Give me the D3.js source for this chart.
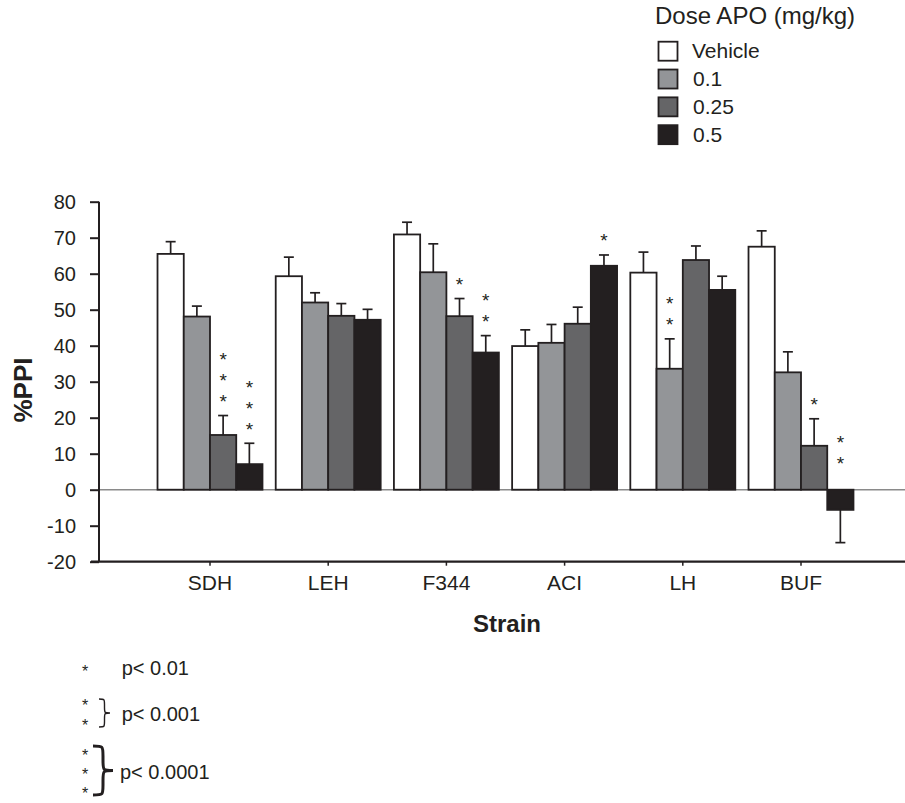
<!DOCTYPE html>
<html>
<head>
<meta charset="utf-8">
<script src="https://cdn.jsdelivr.net/npm/d3@7"></script>
<style>
  html, body { margin: 0; padding: 0; background: #fff; }
  svg { display: block; font-family: Arial, "Liberation Sans", Helvetica, sans-serif; }
</style>
</head>
<body>
<svg id="chart" width="905" height="803"></svg>
<script>
// Strains on the x axis, APO doses as the grouped series
const strains = ["SDH", "LEH", "F344", "ACI", "LH", "BUF"];
const doses = ["Vehicle", "0.1", "0.25", "0.5"];

// Mean %PPI per strain, one array per dose
const vehicle = [65.5, 59.3, 70.9, 39.9, 60.3, 67.5];
const dose01  = [48.1, 52.0, 60.4, 40.8, 33.6, 32.6];
const dose025 = [15.2, 48.3, 48.2, 46.1, 63.8, 12.2];
const dose05  = [7.1, 47.2, 38.1, 62.2, 55.5, -5.6];

// Standard errors
const vehicleErr = [3.4, 5.3, 3.4, 4.5, 5.7, 4.4];
const dose01Err  = [2.9, 2.7, 7.9, 5.1, 8.3, 5.7];
const dose025Err = [5.4, 3.4, 4.9, 4.6, 3.9, 7.5];
const dose05Err  = [5.8, 2.9, 4.7, 3.0, 3.8, 9.1];

// Number of significance stars above each bar
const vehicleSig = [0, 0, 0, 0, 0, 0];
const dose01Sig  = [0, 0, 0, 0, 2, 0];
const dose025Sig = [3, 0, 1, 0, 0, 1];
const dose05Sig  = [3, 0, 2, 1, 0, 2];

const yTicks = [80, 70, 60, 50, 40, 30, 20, 10, 0, -10, -20];
const fills = ["#ffffff", "#939598", "#656567", "#231f20"];
const ink = "#231f20";

const series = [
  { dose: doses[0], values: vehicle, err: vehicleErr, sig: vehicleSig },
  { dose: doses[1], values: dose01,  err: dose01Err,  sig: dose01Sig },
  { dose: doses[2], values: dose025, err: dose025Err, sig: dose025Sig },
  { dose: doses[3], values: dose05,  err: dose05Err,  sig: dose05Sig }
];
const bars = [];
series.forEach((s, si) => strains.forEach((st, i) => bars.push({
  strain: st, dose: s.dose, si, value: s.values[i], err: s.err[i], sig: s.sig[i]
})));

const svg = d3.select("#chart");
const axisLeftX = 99, axisRightX = 905;

const y = d3.scaleLinear().domain([-20, 80]).range([561.7, 201.7]);
const x0 = d3.scaleBand().domain(strains).range([150.9, 860.1])
  .paddingInner(0.112).paddingOuter(0.056);
const x1 = d3.scaleBand().domain(doses).range([0, x0.bandwidth()]);
const color = d3.scaleOrdinal().domain(doses).range(fills);

// Zero reference line
svg.append("line")
  .attr("x1", axisLeftX).attr("x2", axisRightX)
  .attr("y1", y(0)).attr("y2", y(0))
  .attr("stroke", "#8a8a8a").attr("stroke-width", 1.4);

// Y axis (plain hyphen for negative ticks)
const yAxis = svg.append("g").attr("transform", `translate(${axisLeftX},0)`)
  .call(d3.axisLeft(y).tickValues(yTicks).tickSize(9).tickPadding(14)
    .tickFormat(d => String(d)));
yAxis.select(".domain").attr("stroke", ink).attr("stroke-width", 2)
  .attr("d", `M0,${y(80)}V${y(-20)}`);
yAxis.selectAll(".tick line").attr("stroke", ink).attr("stroke-width", 2);
yAxis.selectAll(".tick text").attr("fill", ink).attr("font-size", 20)
  .attr("font-family", "Arial, 'Liberation Sans', sans-serif");

// X axis along the bottom of the plot
const xAxis = svg.append("g").attr("transform", `translate(0,${y(-20)})`)
  .call(d3.axisBottom(x0).tickSize(4).tickPadding(9));
xAxis.select(".domain").attr("stroke", ink).attr("stroke-width", 2.2)
  .attr("d", `M${axisLeftX - 8},0H${axisRightX}`);
xAxis.selectAll(".tick line").attr("stroke", ink).attr("stroke-width", 1.5);
xAxis.selectAll(".tick text").attr("fill", ink).attr("font-size", 21)
  .attr("font-family", "Arial, 'Liberation Sans', sans-serif");

// Bars
const bx = d => x0(d.strain) + x1(d.dose);
svg.append("g").selectAll("rect").data(bars).join("rect")
  .attr("x", bx)
  .attr("y", d => y(Math.max(0, d.value)))
  .attr("width", x1.bandwidth())
  .attr("height", d => Math.abs(y(d.value) - y(0)))
  .attr("fill", d => color(d.dose))
  .attr("stroke", ink).attr("stroke-width", 1.8);

// One-sided error bars pointing away from zero
const capHalf = 5;
const errG = svg.append("g").attr("stroke", ink).attr("stroke-width", 1.7);
bars.forEach(d => {
  const cx = bx(d) + x1.bandwidth() / 2;
  const end = d.value >= 0 ? d.value + d.err : d.value - d.err;
  errG.append("line").attr("x1", cx).attr("x2", cx)
    .attr("y1", y(d.value)).attr("y2", y(end));
  errG.append("line").attr("x1", cx - capHalf).attr("x2", cx + capHalf)
    .attr("y1", y(end)).attr("y2", y(end));
});

// Significance stars stacked above each error bar
const starG = svg.append("g").attr("fill", ink).attr("font-size", 19)
  .attr("text-anchor", "middle");
bars.filter(d => d.sig > 0).forEach(d => {
  const cx = bx(d) + x1.bandwidth() / 2;
  const anchor = y(Math.max(0, d.value + d.err)) - 18.5;
  d3.range(d.sig).forEach(k => {
    starG.append("text").attr("x", cx).attr("y", anchor - k * 21 + 11).text("*");
  });
});

// Axis titles
svg.append("text").attr("transform", "translate(31.5,390) rotate(-90)")
  .attr("text-anchor", "middle").attr("font-weight", "bold").attr("font-size", 26)
  .attr("fill", ink).text("%PPI");
svg.append("text").attr("x", 507).attr("y", 632)
  .attr("text-anchor", "middle").attr("font-weight", "bold").attr("font-size", 24)
  .attr("fill", ink).text("Strain");

// Legend
const legend = svg.append("g");
legend.append("text").attr("x", 655).attr("y", 24).attr("font-size", 24)
  .attr("fill", ink).text("Dose APO (mg/kg)");
const legendRow = d3.scaleBand().domain(doses).range([41.7, 153]);
doses.forEach((d, i) => {
  const top = legendRow(d);
  legend.append("rect").attr("x", 658.5).attr("y", top).attr("width", 19).attr("height", 19)
    .attr("fill", color(d)).attr("stroke", ink).attr("stroke-width", 1.8);
  legend.append("text").attr("x", i === 0 ? 692 : 693).attr("y", top + 16.5)
    .attr("font-size", 21).attr("fill", ink).text(d);
});

// Significance key below the chart
const bracePath = (x, y0, yEnd, w) => {
  const ym = (y0 + yEnd) / 2, h = w / 2;
  return `M${x},${y0} C${x + h},${y0} ${x + h},${y0} ${x + h},${y0 + h} ` +
    `L${x + h},${ym - h} C${x + h},${ym} ${x + h},${ym} ${x + w},${ym} ` +
    `C${x + h},${ym} ${x + h},${ym} ${x + h},${ym + h} ` +
    `L${x + h},${yEnd - h} C${x + h},${yEnd} ${x + h},${yEnd} ${x},${yEnd}`;
};
const key = svg.append("g").attr("fill", ink);
const keyRows = [
  { stars: [668.3], label: "p< 0.01", lx: 121.7, ly: 675, brace: null },
  { stars: [701.7, 721.7], label: "p< 0.001", lx: 121.7, ly: 721, brace: [99, 699, 727, 11, 1.4] },
  { stars: [752, 771, 789.5], label: "p< 0.0001", lx: 120, ly: 779, brace: [93, 746, 795, 20, 3] }
];
keyRows.forEach(r => {
  r.stars.forEach(sy => key.append("text").attr("x", 85).attr("y", sy + 9)
    .attr("font-size", 16).attr("text-anchor", "middle").text("*"));
  key.append("text").attr("x", r.lx).attr("y", r.ly).attr("font-size", 20).text(r.label);
  if (r.brace) {
    const [bx0, by0, by1, bw, sw] = r.brace;
    key.append("path").attr("d", bracePath(bx0, by0, by1, bw))
      .attr("fill", "none").attr("stroke", ink).attr("stroke-width", sw);
  }
});
</script>
</body>
</html>
